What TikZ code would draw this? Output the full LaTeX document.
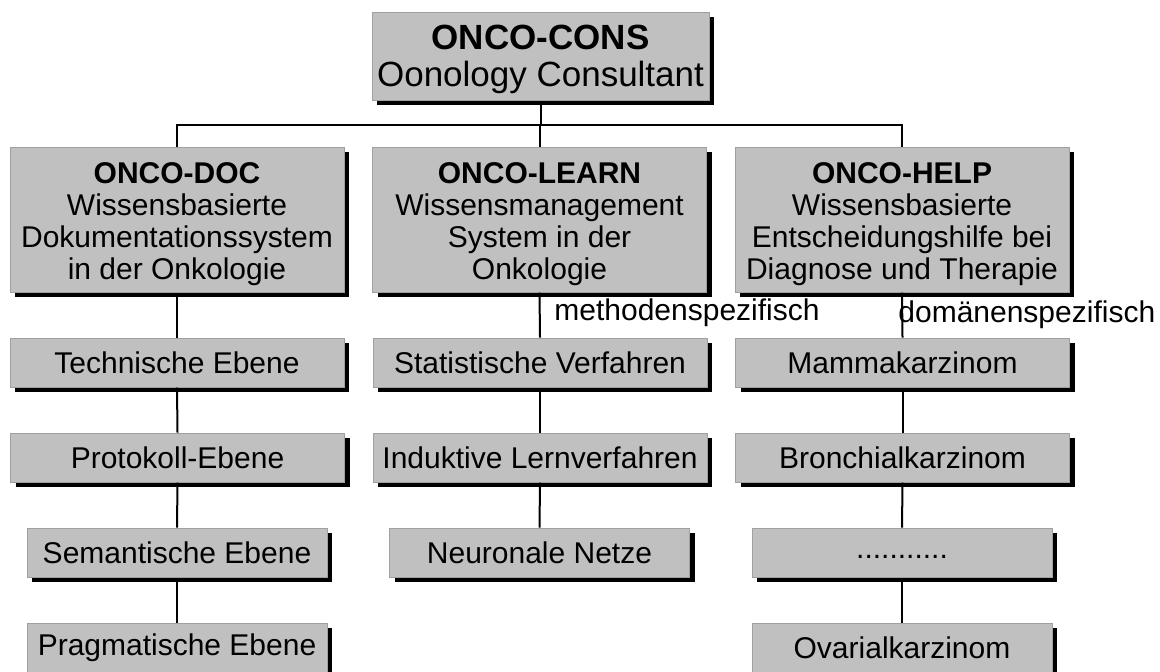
\documentclass[tikz,border=0pt]{standalone}
\usepackage{fontspec}
\setmainfont{Liberation Sans}
\usetikzlibrary{shadows}
\definecolor{boxgray}{RGB}{192,192,192}
\definecolor{rimgray}{RGB}{160,160,160}
\newcommand{\headstrut}[1]{\rule{0pt}{#1}}
\tikzset{
  box/.style={rectangle, draw=rimgray, line width=0.5pt, fill=boxgray,
    inner sep=0pt, align=center, font=\fontsize{15}{16}\selectfont,
    drop shadow={shadow xshift=2.5pt, shadow yshift=-2.5pt, fill=black, opacity=1}},
  wide/.style={minimum width=167pt},
  narrow/.style={minimum width=150pt},
  row/.style={minimum height=24.5pt},
  tag/.style={anchor=west, inner sep=0pt, font=\fontsize{15}{16}\selectfont},
  link/.style={line width=1pt}
}
\begin{document}
\begin{tikzpicture}[x=0.5pt,y=-0.5pt]
  \useasboundingbox (0,0) rectangle (1160,671);
  % top
  \node [box, minimum width=168.5pt, minimum height=44pt,
    font=\fontsize{17.5}{18.5}\selectfont] (cons) at (540.5,56)
    {\headstrut{15.6pt}{\bfseries ONCO-CONS}\\Oonology Consultant};
  % systems
  \node [box, wide, minimum height=72.5pt] (doc) at (177,219.5)
    {\headstrut{15pt}{\bfseries ONCO-DOC}\\Wissensbasierte\\Dokumentationssystem\\in der Onkologie};
  \node [box, wide, minimum height=72.5pt] (learn) at (539.5,219.5)
    {\headstrut{15pt}{\bfseries ONCO-LEARN}\\Wissensmanagement\\System in der\\Onkologie};
  \node [box, wide, minimum height=72.5pt] (help) at (902,219.5)
    {\headstrut{15pt}{\bfseries ONCO-HELP}\\Wissensbasierte\\Entscheidungshilfe bei\\Diagnose und Therapie};
  % ONCO-DOC
  \node [box, wide, row] (tech) at (177,362.5) {Technische Ebene};
  \node [box, wide, row] (proto) at (177.5,457.5) {Protokoll-Ebene};
  \node [box, narrow, row] (sem) at (177,552.5) {Semantische Ebene};
  \node [box, narrow, row] (prag) at (177,647.5) {Pragmatische Ebene};
  % ONCO-LEARN
  \node [box, wide, row] (stat) at (540,362.5) {Statistische Verfahren};
  \node [box, wide, row] (induk) at (540,457.5) {Induktive Lernverfahren};
  \node [box, narrow, row] (neuro) at (539.5,552.5) {Neuronale Netze};
  % ONCO-HELP
  \node [box, wide, row] (mamma) at (902.5,362.5) {Mammakarzinom};
  \node [box, wide, row] (bronch) at (902.5,457.5) {Bronchialkarzinom};
  \node [box, narrow, row] (dots) at (902,552.5) {\strut...........};
  \node [box, narrow, row] (ovar) at (902,647.5) {Ovarialkarzinom};
  \node [tag] (meth) at (554,313) {methodenspezifisch};
  \node [tag] (dom) at (898,315) {domänenspezifisch};
  % connectors
  \coordinate (bus) at (540.5,125);
  \draw [link] (cons.south) -- (cons.south |- bus);
  \draw [link] (doc.north) -- (doc.north |- bus) -- (help.north |- bus) -- (help.north);
  \draw [link] (learn.north |- bus) -- (learn.north);
  \draw [link] (doc.south) -- (tech.north);
  \draw [link] (tech.south) -- (proto.north);
  \draw [link] (proto.south) -- (sem.north);
  \draw [link] (sem.south) -- (prag.north);
  \draw [link] (learn.south) -- (stat.north);
  \draw [link] (stat.south) -- (induk.north);
  \draw [link] (induk.south) -- (neuro.north);
  \draw [link] (help.south) -- (mamma.north);
  \draw [link] (mamma.south) -- (bronch.north);
  \draw [link] (bronch.south) -- (dots.north);
  \draw [link] (dots.south) -- (ovar.north);
\end{tikzpicture}
\end{document}
